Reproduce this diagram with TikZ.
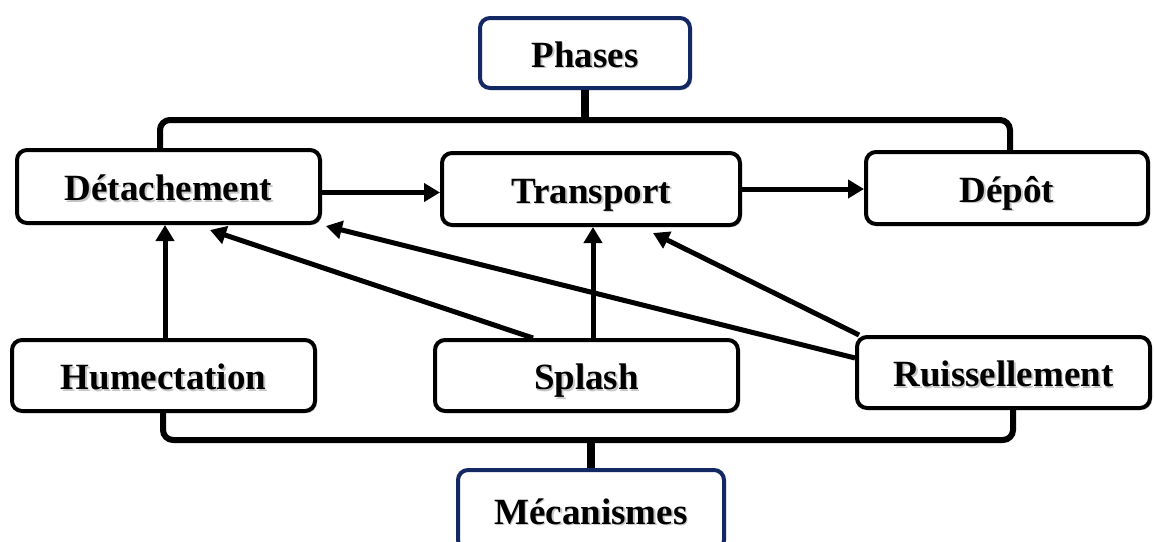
\documentclass[tikz,border=0pt]{standalone}
\usepackage{fontspec}
\setmainfont{Liberation Serif}
\usetikzlibrary{arrows.meta,shadows}

\definecolor{navy}{RGB}{20,40,100}
\newcommand{\ombre}[1]{\makebox[0pt][l]{\kern1.5pt\raisebox{-1.5pt}{\textcolor{black!22}{#1}}}#1}

\begin{document}
\begin{tikzpicture}[>={Triangle[length=16pt,width=18pt]}, x=1pt, y=-1pt,
	box/.style={draw, line width=4pt, rounded corners=10pt, fill=white, align=center,
		font=\fontsize{37}{44}\selectfont\bfseries, text height=35pt, text depth=7pt,
		drop shadow={shadow xshift=2pt, shadow yshift=-2pt, fill=black, opacity=.2}},
	titre/.style={box, draw=navy},
	arr/.style={->, line width=5pt},
	brace/.style={line width=6pt, rounded corners=10pt}]
	\useasboundingbox (0,0) rectangle (1154,541);
	\clip (0,0) rectangle (1154,541);
	% accolades
	\coordinate (htop) at (585,120);
	\coordinate (hbot) at (591,440);
	\draw[brace] (160,148) |- (htop) -| (1010,150);
	\draw[brace] (163,413) |- (hbot) -| (1013,410);
	% phases
	\node[titre, minimum width=210pt, minimum height=70pt] (phases) at (585,53) {\ombre{Phases}};
	\node[box, minimum width=303pt, minimum height=73pt] (detach) at (168.5,186.5) {\ombre{Détachement}};
	\node[box, minimum width=298pt, minimum height=72pt] (transport) at (591,189) {\ombre{Transport}};
	\node[box, minimum width=282pt, minimum height=72pt] (depot) at (1007,188) {\ombre{Dépôt}};
	% mecanismes
	\node[box, minimum width=303pt, minimum height=71pt] (humect) at (163.5,375.5) {\ombre{Humectation}};
	\node[box, minimum width=303pt, minimum height=71pt] (splash) at (586.5,375.5) {\ombre{Splash}};
	\node[box, minimum width=293pt, minimum height=71pt] (ruiss) at (1003.5,372.5) {\ombre{Ruissellement}};
	\node[titre, minimum width=266pt, minimum height=80pt] (meca) at (591,510) {\ombre{Mécanismes}};
	\draw[line width=8pt] (phases.south) -- (htop);
	\draw[line width=8pt] (meca.north) -- (hbot);
	% fleches
	\draw[arr] ([yshift=-6pt]detach.east) -- ([yshift=-6pt]detach.east -| transport.west);
	\draw[arr] (transport.east) -- (transport.east -| depot.west);
	\draw[arr] ([xshift=1.5pt]humect.north) -- ([xshift=1.5pt]humect.north |- detach.south);
	\draw[arr] ([xshift=2pt]transport.south |- splash.north) -- ([xshift=2pt]transport.south);
	\draw[arr] ([xshift=100pt]splash.north west) -- ([xshift=195pt,yshift=-5pt]detach.south west);
	\draw[arr] ([yshift=14.5pt]ruiss.west) -- ([xshift=4pt,yshift=-1pt]detach.south east);
	\draw[arr] ([xshift=4pt]ruiss.north west) -- ([xshift=213pt,yshift=-6pt]transport.south west);
\end{tikzpicture}
\end{document}
